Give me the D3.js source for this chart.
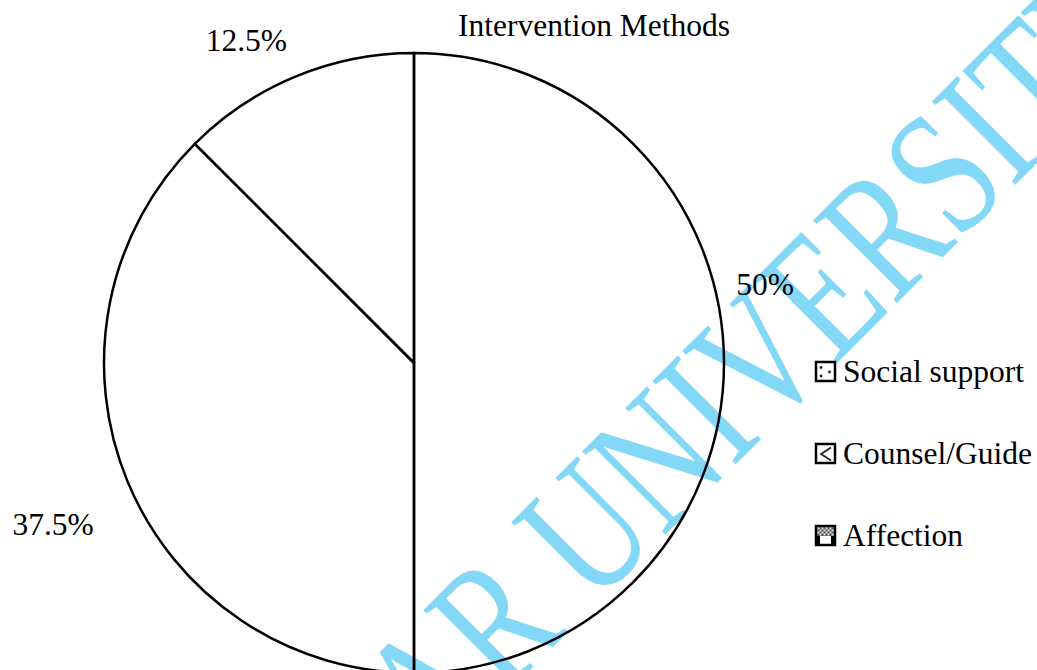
<!DOCTYPE html>
<html>
<head>
<meta charset="utf-8">
<script src="https://cdn.jsdelivr.net/npm/d3@7"></script>
<style>
  html, body { margin: 0; padding: 0; background: #fff; }
  svg { display: block; }
  text { font-family: "Liberation Serif", "Times New Roman", serif; }
</style>
</head>
<body>
<svg id="chart" width="1037" height="670"></svg>
<script>
// Chart data
const title = "Intervention Methods";
const categories = ["Social support", "Counsel/Guide", "Affection"];
const shares = [50, 37.5, 12.5];
const shareLabels = ["50%", "37.5%", "12.5%"];
const watermarkText = "AR UNIVERSITY";

const width = 1037, height = 670;
const cx = 414, cy = 363, radius = 310;
const fontSize = 31.5;

const svg = d3.select("#chart");

// Background watermark (narrow serif lettering), drawn first so the chart sits on top
svg.append("text")
  .attr("transform", "translate(434,766) rotate(-45) scale(0.76,1)")
  .attr("font-size", 180)
  .attr("fill", "#84d8f7")
  .text(watermarkText);

// Title
svg.append("text")
  .attr("x", 594).attr("y", 36)
  .attr("text-anchor", "middle")
  .attr("font-size", fontSize)
  .text(title);

// Pie
const pie = d3.pie().sort(null).value(d => d)
  .startAngle(0).endAngle(2 * Math.PI);
const arcs = pie(shares);
const arc = d3.arc().innerRadius(0).outerRadius(radius);

const g = svg.append("g").attr("transform", `translate(${cx},${cy})`);
g.selectAll("path.slice")
  .data(arcs)
  .join("path")
  .attr("class", "slice")
  .attr("d", arc)
  .attr("fill", "none")
  .attr("stroke", "#000")
  .attr("stroke-width", 2.5)
  .attr("stroke-linejoin", "round");

// Percentage labels: placed around each slice's mid angle, then nudged
const labelArc = d3.arc().innerRadius(370).outerRadius(370);
const nudges = [[-19, -79], [-19, 20], [-26, 19]];
g.selectAll("text.pct")
  .data(arcs)
  .join("text")
  .attr("class", "pct")
  .attr("x", (d, i) => labelArc.centroid(d)[0] + nudges[i][0])
  .attr("y", (d, i) => labelArc.centroid(d)[1] + nudges[i][1] + 10.5)
  .attr("text-anchor", "middle")
  .attr("font-size", fontSize)
  .text((d, i) => shareLabels[i]);

// Legend keys with small pattern swatches
const legendY = d3.scalePoint().domain(categories).range([382, 546]);
const legend = svg.append("g");
const s = 19;
const items = legend.selectAll("g.item")
  .data(categories)
  .join("g")
  .attr("class", "item")
  .attr("transform", d => `translate(816,${legendY(d) - 20})`);

items.append("rect")
  .attr("width", s).attr("height", s)
  .attr("fill", "#fff")
  .attr("stroke", "#000").attr("stroke-width", 2.5);

// Social support: scattered dots
items.filter((d, i) => i === 0)
  .selectAll("circle")
  .data([[5, 5.5], [5, 14], [13.5, 10]])
  .join("circle")
  .attr("cx", d => d[0]).attr("cy", d => d[1]).attr("r", 1.4)
  .attr("fill", "#222");

// Counsel/Guide: chevron stroke
items.filter((d, i) => i === 1)
  .append("path")
  .attr("d", "M15,3.5 L5,10 L15,16.5")
  .attr("fill", "none").attr("stroke", "#222").attr("stroke-width", 1.8);

// Affection: checkered top band over white base
const aff = items.filter((d, i) => i === 2);
aff.append("rect").attr("x", 1).attr("y", 1).attr("width", s - 2).attr("height", 9).attr("fill", "#555");
const checks = [];
for (let r = 0; r < 4; r++) for (let c = 0; c < 8; c++) if ((r + c) % 2 === 0) checks.push([1.5 + c * 2, 1.5 + r * 2]);
aff.selectAll("rect.chk").data(checks).join("rect")
  .attr("class", "chk")
  .attr("x", d => d[0]).attr("y", d => d[1]).attr("width", 2).attr("height", 2)
  .attr("fill", "#ddd");
aff.append("rect").attr("x", 1).attr("y", 10).attr("width", 3).attr("height", 8).attr("fill", "#000");
aff.append("rect").attr("x", s - 4).attr("y", 10).attr("width", 3).attr("height", 8).attr("fill", "#000");

items.append("text")
  .attr("x", 27).attr("y", 20)
  .attr("font-size", fontSize)
  .text(d => d);
</script>
</body>
</html>
